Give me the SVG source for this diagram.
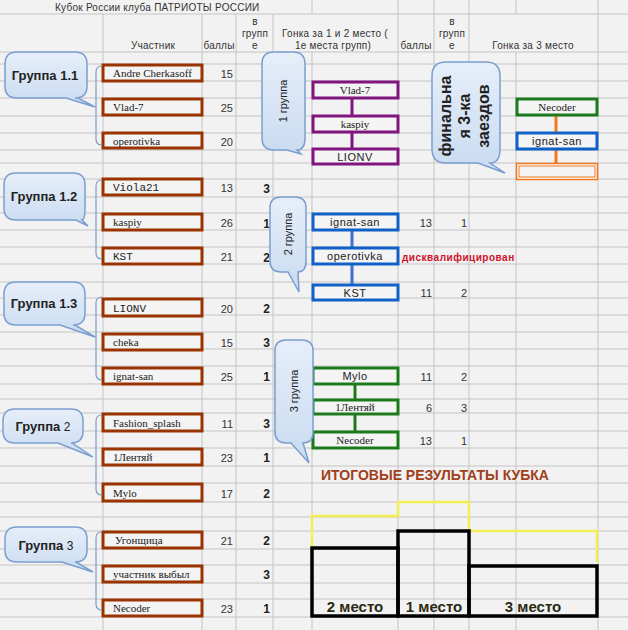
<svg xmlns="http://www.w3.org/2000/svg" width="628" height="630" viewBox="0 0 628 630">
<defs>
<linearGradient id="cg" x1="0" y1="0" x2="0" y2="1"><stop offset="0" stop-color="#e6eef9"/><stop offset="1" stop-color="#c9dbf1"/></linearGradient>
</defs>
<style>
.bg{fill:#f2f2f2}
.g{stroke:#c4c4c4;stroke-width:1;fill:none}
.hd{font-family:"Liberation Sans",Arial,sans-serif;font-size:10px;fill:#333;letter-spacing:0.25px}
.bx{fill:#f4f4f4;stroke:#993300;stroke-width:3}
.pu{fill:#f4f4f4;stroke:#80157f;stroke-width:3}
.bl{fill:#f4f4f4;stroke:#1060c8;stroke-width:3}
.gr{fill:#f4f4f4;stroke:#1c7a1c;stroke-width:3}
.nm{font-family:"Liberation Serif","Times New Roman",serif;font-size:11px;fill:#222}
.nmm{font-family:"Liberation Mono","Courier New",monospace;font-size:11px;fill:#222}
.ns{font-family:"Liberation Sans",Arial,sans-serif;font-size:11px;fill:#222;letter-spacing:0.5px}
.sc{font-family:"Liberation Sans",Arial,sans-serif;font-size:11px;fill:#333;text-anchor:end}
.pl{font-family:"Liberation Sans",Arial,sans-serif;font-size:12px;font-weight:bold;fill:#222;text-anchor:end}
.co{fill:url(#cg);stroke:#7b9ed0;stroke-width:1.5}
.ct{font-family:"Liberation Sans",Arial,sans-serif;font-size:13px;font-weight:bold;fill:#222;text-anchor:middle}
.cvt{font-family:"Liberation Sans",Arial,sans-serif;font-size:11px;fill:#222;text-anchor:middle}
.br{stroke:#7a9cc6;stroke-width:1.2;fill:none}
.c{text-anchor:middle}
.pod{fill:none;stroke:#000;stroke-width:3.5}
.pt{font-family:"Liberation Sans",Arial,sans-serif;font-size:15px;font-weight:bold;fill:#2a2a12;text-anchor:middle}
</style>
<rect class="bg" x="0" y="0" width="628" height="630"/>
<g id="grid" class="g">
<path d="M312,0V14M398,0V14M434,0V14M469,0V14M516,0V14M598,0V14"/>
<path d="M103,14V52M202,14V52M236,14V52M273,14V52M398,14V52M434,14V52M469,14V52M598,14V52"/>
<path d="M103,52V630M202,52V630M236,52V630M273,52V630M312,52V630M398,52V630M434,52V630M469,52V630M516,52V630M598,52V630"/>
<path d="M0,14H628M0,52H628M0,64H628M0,81H628M0,98H628M0,116H628M0,133H628M0,150H628M0,163H628M0,179H628M0,197H628M0,213H628M0,230H628M0,247H628M0,264H628M0,282H628M0,298H628M0,315H628M0,332H628M0,349H628M0,366H628M0,384H628M0,399H628M0,413H628M0,431H628M0,448H628M0,466H628M0,483H628M0,502H628M0,517H628M0,531H628M0,549H628M0,565H628M0,583H628M0,599H628M0,617H628"/>
</g>
<g id="header">
<text class="hd" x="55" y="11">Кубок России клуба ПАТРИОТЫ РОССИИ</text>
<text class="hd c" x="153" y="49">Участник</text>
<text class="hd c" x="219" y="49">баллы</text>
<text class="hd c" x="255" y="25">в</text>
<text class="hd c" x="255" y="37">групп</text>
<text class="hd c" x="255" y="49">е</text>
<text class="hd c" x="335" y="37">Гонка за 1 и 2 место (</text>
<text class="hd c" x="333" y="49">1е места групп)</text>
<text class="hd c" x="416" y="49">баллы</text>
<text class="hd c" x="452" y="25">в</text>
<text class="hd c" x="452" y="37">групп</text>
<text class="hd c" x="452" y="49">е</text>
<text class="hd c" x="533" y="49">Гонка за 3 место</text>
</g>
<g id="participants">
<g id="p-andre"><rect class="bx" x="103" y="65" width="99" height="16"/><text class="nm" x="113" y="77">Andre Cherkasoff</text><text class="sc" x="233" y="78">15</text><text class="pl" x="270" y="78">3</text></g>
<g id="p-vlad"><rect class="bx" x="103" y="99" width="99" height="16"/><text class="nm" x="113" y="111">Vlad-7</text><text class="sc" x="233" y="112">25</text><text class="pl" x="270" y="112">1</text></g>
<g id="p-operotivka"><rect class="bx" x="103" y="133" width="99" height="15"/><text class="nm" x="113" y="145">operotivka</text><text class="sc" x="233" y="146">20</text><text class="pl" x="270" y="146">2</text></g>
<g id="p-viola"><rect class="bx" x="103" y="179" width="99" height="16"/><text class="nmm" x="113" y="191">Viola21</text><text class="sc" x="233" y="192">13</text><text class="pl" x="270" y="193">3</text></g>
<g id="p-kaspiy"><rect class="bx" x="103" y="214" width="99" height="16"/><text class="nm" x="113" y="226">kaspiy</text><text class="sc" x="233" y="227">26</text><text class="pl" x="270" y="228">1</text></g>
<g id="p-kst"><rect class="bx" x="103" y="248" width="99" height="16"/><text class="nmm" x="113" y="260">KST</text><text class="sc" x="233" y="261">21</text><text class="pl" x="270" y="262">2</text></g>
<g id="p-lionv"><rect class="bx" x="103" y="299" width="99" height="17"/><text class="nmm" x="113" y="312">LIONV</text><text class="sc" x="233" y="313">20</text><text class="pl" x="270" y="313">2</text></g>
<g id="p-cheka"><rect class="bx" x="103" y="334" width="99" height="16"/><text class="nm" x="113" y="346">cheka</text><text class="sc" x="233" y="347">15</text><text class="pl" x="270" y="347">3</text></g>
<g id="p-ignat"><rect class="bx" x="103" y="368" width="99" height="16"/><text class="nm" x="113" y="380">ignat-san</text><text class="sc" x="233" y="381">25</text><text class="pl" x="270" y="381">1</text></g>
<g id="p-fashion"><rect class="bx" x="103" y="414" width="99" height="17"/><text class="nm" x="113" y="427">Fashion_splash</text><text class="sc" x="233" y="428">11</text><text class="pl" x="270" y="428">3</text></g>
<g id="p-lentyai"><rect class="bx" x="103" y="449" width="99" height="16"/><text class="nm" x="113" y="461">1Лентяй</text><text class="sc" x="233" y="462">23</text><text class="pl" x="270" y="462">1</text></g>
<g id="p-mylo"><rect class="bx" x="103" y="484" width="99" height="17"/><text class="nm" x="113" y="497">Mylo</text><text class="sc" x="233" y="498">17</text><text class="pl" x="270" y="498">2</text></g>
<g id="p-ugon"><rect class="bx" x="103" y="532" width="99" height="16"/><text class="nm" x="115" y="544">Угонщица</text><text class="sc" x="233" y="545">21</text><text class="pl" x="270" y="545">2</text></g>
<g id="p-vybyl"><rect class="bx" x="103" y="566" width="99" height="16"/><text class="nm" x="113" y="578">участник выбыл</text><text class="pl" x="270" y="579">3</text></g>
<g id="p-necoder"><rect class="bx" x="103" y="600" width="99" height="16"/><text class="nm" x="113" y="612">Necoder</text><text class="sc" x="233" y="613">23</text><text class="pl" x="270" y="613">1</text></g>
</g>
<g id="brackets">
<path class="br" d="M102,66Q96,66 96,72V139Q96,145 102,145"/>
<path class="br" d="M102,180Q96,180 96,186V253Q96,259 102,259"/>
<path class="br" d="M102,297Q96,297 96,303V374Q96,380 102,380"/>
<path class="br" d="M102,415Q96,415 96,421V489Q96,495 102,495"/>
<path class="br" d="M102,532Q96,532 96,538V604Q96,610 102,610"/>
</g>
<g id="connectors">
<path d="M352,99V115M352,133V148" stroke="#80157f" stroke-width="3"/>
<path d="M352,231V247M352,265V284" stroke="#3f6fd0" stroke-width="3"/>
<path d="M355,385V399M355,415V431" stroke="#1c7a1c" stroke-width="3"/>
<path d="M556,116V132M556,150V163" stroke="#f07820" stroke-width="3"/>
</g>
<g id="race12">
<g id="r-vlad"><rect class="pu" x="313" y="82" width="85" height="16"/><text class="nm c" x="355" y="94">Vlad-7</text></g>
<g id="r-kaspiy"><rect class="pu" x="313" y="116" width="85" height="16"/><text class="nm c" x="355" y="128">kaspiy</text></g>
<g id="r-lionv"><rect class="pu" x="313" y="149" width="85" height="15"/><text class="ns c" x="355" y="161">LIONV</text></g>
<g id="r-ignat"><rect class="bl" x="313" y="214" width="85" height="16"/><text class="ns c" x="355" y="226">ignat-san</text><text class="sc" x="432" y="227">13</text><text class="sc" x="467" y="227">1</text></g>
<g id="r-operotivka"><rect class="bl" x="313" y="248" width="85" height="16"/><text class="ns c" x="355" y="260">operotivka</text><text x="402" y="261" font-family="Liberation Sans,Arial,sans-serif" font-size="10" font-weight="bold" fill="#d0102a" letter-spacing="0.5">дисквалифицирован</text></g>
<g id="r-kst"><rect class="bl" x="313" y="285" width="85" height="15"/><text class="ns c" x="355" y="297">KST</text><text class="sc" x="432" y="297">11</text><text class="sc" x="467" y="297">2</text></g>
<g id="r-mylo"><rect class="gr" x="313" y="368" width="85" height="16"/><text class="ns c" x="355" y="380">Mylo</text><text class="sc" x="432" y="381">11</text><text class="sc" x="467" y="381">2</text></g>
<g id="r-lentyai"><rect class="gr" x="313" y="400" width="85" height="14"/><text class="nm c" x="355" y="411">1Лентяй</text><text class="sc" x="432" y="412">6</text><text class="sc" x="467" y="412">3</text></g>
<g id="r-necoder"><rect class="gr" x="313" y="432" width="85" height="16"/><text class="nm c" x="355" y="444">Necoder</text><text class="sc" x="432" y="445">13</text><text class="sc" x="467" y="445">1</text></g>
</g>
<g id="race3">
<g id="t-necoder"><rect class="gr" x="517" y="99" width="80" height="16"/><text class="nm c" x="557" y="111">Necoder</text></g>
<g id="t-ignat"><rect class="bl" x="517" y="133" width="80" height="16"/><text class="ns c" x="557" y="145">ignat-san</text></g>
<g id="t-empty"><rect x="516.5" y="163.5" width="81" height="16" fill="#fff" stroke="#f07820" stroke-width="1.5"/><rect x="519" y="166" width="76" height="11" fill="#f4f4f4" stroke="#f07820" stroke-width="1"/></g>
</g>
<g id="callouts">
<g id="c11"><path class="co" d="M17,52H75Q87,52 87,64V86Q87,98 75,98H78L95,107L66,98H17Q5,98 5,86V64Q5,52 17,52Z"/><text class="ct" x="45" y="80">Группа 1.1</text></g>
<g id="c12"><path class="co" d="M16,173H73Q85,173 85,185V208Q85,220 82,220L88,226L76,220H16Q4,220 4,208V185Q4,173 16,173Z"/><text class="ct" x="44" y="201">Группа 1.2</text></g>
<g id="c13"><path class="co" d="M16,282H73Q85,282 85,294V313Q85,325 73,325H75L95,337L60,325H16Q4,325 4,313V294Q4,282 16,282Z"/><text class="ct" x="44" y="308">Группа 1.3</text></g>
<g id="c2"><path class="co" d="M15,409H71Q83,409 83,421V431Q83,443 71,443H72L93,457L58,443H15Q3,443 3,431V421Q3,409 15,409Z"/><text class="ct" x="43" y="431">Группа <tspan font-weight="normal" font-size="12">2</tspan></text></g>
<g id="c3"><path class="co" d="M17,527H75Q87,527 87,539V550Q87,562 75,562H76L93,572L62,562H17Q5,562 5,550V539Q5,527 17,527Z"/><text class="ct" x="46" y="550">Группа <tspan font-weight="normal" font-size="12">3</tspan></text></g>
<g id="cg1"><path class="co" d="M274,52H293Q305,52 305,64V138Q305,150 297,150L301,154L287,150H274Q262,150 262,138V64Q262,52 274,52Z"/><text class="cvt" transform="translate(287,101) rotate(-90)">1 группа</text></g>
<g id="cg2"><path class="co" d="M281,197H295Q306,197 306,208V261Q306,272 298,272L299,292L288,272H281Q270,272 270,261V208Q270,197 281,197Z"/><text class="cvt" transform="translate(292,234) rotate(-90)">2 группа</text></g>
<g id="cg3"><path class="co" d="M286,340H302Q313,340 313,351V432Q313,443 303,443L309,463L291,443H286Q275,443 275,432V351Q275,340 286,340Z"/><text class="cvt" transform="translate(298,391) rotate(-90)">3 группа</text></g>
<g id="cfin"><path class="co" d="M446,62H486Q500,62 500,76V149Q500,163 490,163L505,173L478,163H446Q432,163 432,149V76Q432,62 446,62Z"/><g font-family="Liberation Sans,Arial,sans-serif" font-size="16" font-weight="bold" fill="#222" text-anchor="middle"><text transform="translate(451,116) rotate(-90)">финальна</text><text transform="translate(470,116) rotate(-90)">я 3-ка</text><text transform="translate(489,116) rotate(-90)">заездов</text></g></g>
</g>
<g id="results">
<text x="435" y="480" font-family="Liberation Sans,Arial,sans-serif" font-size="14" font-weight="bold" fill="#a0401a" text-anchor="middle">ИТОГОВЫЕ РЕЗУЛЬТАТЫ КУБКА</text>
<path d="M312,548V516H398V502H469V531H597V562" fill="none" stroke="#f2ee55" stroke-width="2.5"/>
<g id="place2"><rect class="pod" x="312" y="548" width="86" height="68"/><text class="pt" x="355" y="612">2 место</text></g>
<g id="place1"><rect class="pod" x="398" y="531" width="71" height="85"/><text class="pt" x="434" y="612">1 место</text></g>
<g id="place3"><rect class="pod" x="469" y="566" width="128" height="50"/><text class="pt" x="533" y="612">3 место</text></g>
</g>
</svg>
